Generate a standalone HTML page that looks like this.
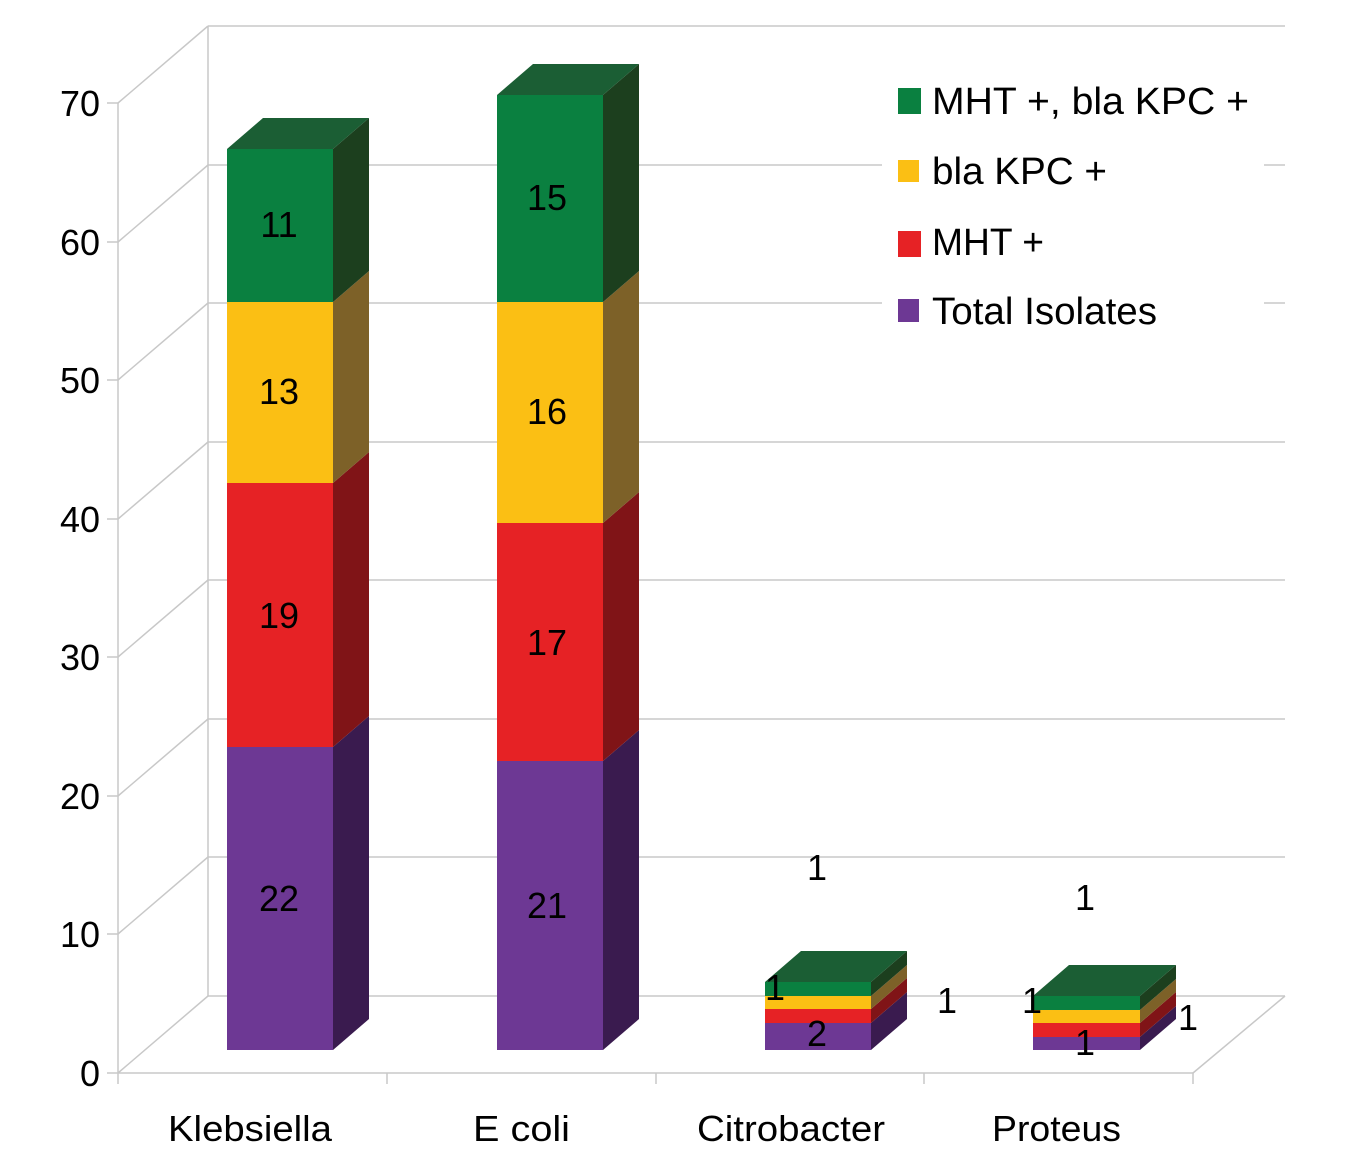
<!DOCTYPE html>
<html><head><meta charset="utf-8"><style>html,body{margin:0;padding:0;background:#fff}</style></head>
<body>
<svg width="1369" height="1171" viewBox="0 0 1369 1171" xmlns="http://www.w3.org/2000/svg" font-family="Liberation Sans, sans-serif">
<g stroke="#c8c8c8" stroke-width="1.5" fill="none">
<!-- back gridlines -->
<line x1="208" y1="26" x2="1285" y2="26"/>
<line x1="208" y1="165" x2="1285" y2="165"/>
<line x1="208" y1="303" x2="1285" y2="303"/>
<line x1="208" y1="442" x2="1285" y2="442"/>
<line x1="208" y1="580" x2="1285" y2="580"/>
<line x1="208" y1="719" x2="1285" y2="719"/>
<line x1="208" y1="857" x2="1285" y2="857"/>
<line x1="208" y1="996" x2="1285" y2="996"/>
<!-- side wall diagonals -->
<line x1="118" y1="103" x2="208" y2="26"/>
<line x1="118" y1="242" x2="208" y2="165"/>
<line x1="118" y1="380" x2="208" y2="303"/>
<line x1="118" y1="519" x2="208" y2="442"/>
<line x1="118" y1="657" x2="208" y2="580"/>
<line x1="118" y1="796" x2="208" y2="719"/>
<line x1="118" y1="934" x2="208" y2="857"/>
<line x1="118" y1="1073" x2="208" y2="996"/>
<line x1="208" y1="26" x2="208" y2="996"/>
<!-- axis -->
<line x1="118" y1="103" x2="118" y2="1073"/>
<line x1="118" y1="1073" x2="1193" y2="1073"/>
<line x1="1193" y1="1073" x2="1285" y2="996"/>
<line x1="107" y1="103" x2="118" y2="103"/><line x1="107" y1="242" x2="118" y2="242"/>
<line x1="107" y1="380" x2="118" y2="380"/><line x1="107" y1="519" x2="118" y2="519"/>
<line x1="107" y1="657" x2="118" y2="657"/><line x1="107" y1="796" x2="118" y2="796"/>
<line x1="107" y1="934" x2="118" y2="934"/><line x1="107" y1="1073" x2="118" y2="1073"/>
<line x1="118" y1="1073" x2="118" y2="1084"/><line x1="387" y1="1073" x2="387" y2="1084"/>
<line x1="656" y1="1073" x2="656" y2="1084"/><line x1="924" y1="1073" x2="924" y2="1084"/>
<line x1="1193" y1="1073" x2="1193" y2="1084"/>
</g>
<g font-size="36" fill="#000" text-anchor="end">
<text x="100" y="116">70</text><text x="100" y="255">60</text><text x="100" y="393">50</text>
<text x="100" y="532">40</text><text x="100" y="670">30</text><text x="100" y="809">20</text>
<text x="100" y="947">10</text><text x="100" y="1086">0</text>
</g>
<!-- legend bg -->
<rect x="882" y="70" width="382" height="270" fill="#fff"/>
<!-- Bars: helper rendering -->
<!-- Klebsiella -->
<g>
<rect x="227" y="747" width="106" height="303" fill="#6d3894"/>
<polygon points="333,747 369,716 369,1019 333,1050" fill="#3a1b4f"/>
<rect x="227" y="483" width="106" height="264" fill="#e62225"/>
<polygon points="333,483 369,452 369,716 333,747" fill="#801417"/>
<rect x="227" y="302" width="106" height="181" fill="#fbbf14"/>
<polygon points="333,302 369,271 369,452 333,483" fill="#7d6128"/>
<rect x="227" y="149" width="106" height="153" fill="#0a8040"/>
<polygon points="333,149 369,118 369,271 333,302" fill="#1c3f1e"/>
<polygon points="227,149 263,118 369,118 333,149" fill="#1b5e34"/>
</g>
<!-- E coli -->
<g>
<rect x="497" y="761" width="106" height="289" fill="#6d3894"/>
<polygon points="603,761 639,730 639,1019 603,1050" fill="#3a1b4f"/>
<rect x="497" y="523" width="106" height="238" fill="#e62225"/>
<polygon points="603,523 639,492 639,730 603,761" fill="#801417"/>
<rect x="497" y="302" width="106" height="221" fill="#fbbf14"/>
<polygon points="603,302 639,271 639,492 603,523" fill="#7d6128"/>
<rect x="497" y="95" width="106" height="207" fill="#0a8040"/>
<polygon points="603,95 639,64 639,271 603,302" fill="#1c3f1e"/>
<polygon points="497,95 533,64 639,64 603,95" fill="#1b5e34"/>
</g>
<!-- Citrobacter -->
<g>
<rect x="765" y="1023" width="106" height="27" fill="#6d3894"/>
<polygon points="871,1023 907,992 907,1019 871,1050" fill="#3a1b4f"/>
<rect x="765" y="1009" width="106" height="14" fill="#e62225"/>
<polygon points="871,1009 907,978 907,992 871,1023" fill="#801417"/>
<rect x="765" y="996" width="106" height="13" fill="#fbbf14"/>
<polygon points="871,996 907,965 907,978 871,1009" fill="#7d6128"/>
<rect x="765" y="982" width="106" height="14" fill="#0a8040"/>
<polygon points="871,982 907,951 907,965 871,996" fill="#1c3f1e"/>
<polygon points="765,982 801,951 907,951 871,982" fill="#1b5e34"/>
</g>
<!-- Proteus -->
<g>
<rect x="1033" y="1037" width="107" height="13" fill="#6d3894"/>
<polygon points="1140,1037 1176,1006 1176,1019 1140,1050" fill="#3a1b4f"/>
<rect x="1033" y="1023" width="107" height="14" fill="#e62225"/>
<polygon points="1140,1023 1176,992 1176,1006 1140,1037" fill="#801417"/>
<rect x="1033" y="1010" width="107" height="13" fill="#fbbf14"/>
<polygon points="1140,1010 1176,979 1176,992 1140,1023" fill="#7d6128"/>
<rect x="1033" y="996" width="107" height="14" fill="#0a8040"/>
<polygon points="1140,996 1176,965 1176,979 1140,1010" fill="#1c3f1e"/>
<polygon points="1033,996 1069,965 1176,965 1140,996" fill="#1b5e34"/>
</g>
<!-- data labels -->
<g font-size="36" fill="#000" text-anchor="middle">
<text x="279" y="237">11</text><text x="279" y="404">13</text><text x="279" y="628">19</text><text x="279" y="911">22</text>
<text x="547" y="210">15</text><text x="547" y="424">16</text><text x="547" y="655">17</text><text x="547" y="918">21</text>
<text x="817" y="880">1</text><text x="775" y="1000">1</text><text x="947" y="1013">1</text><text x="817" y="1046">2</text>
<text x="1085" y="910">1</text><text x="1032" y="1013">1</text><text x="1188" y="1030">1</text><text x="1085" y="1055">1</text>
</g>
<!-- category labels -->
<g font-size="36" fill="#000">
<text x="168" y="1141" textLength="164" lengthAdjust="spacingAndGlyphs">Klebsiella</text>
<text x="473" y="1141" textLength="97" lengthAdjust="spacingAndGlyphs">E  coli</text>
<text x="697" y="1141" textLength="188" lengthAdjust="spacingAndGlyphs">Citrobacter</text>
<text x="992" y="1141" textLength="129" lengthAdjust="spacingAndGlyphs">Proteus</text>
</g>
<!-- legend -->
<rect x="898" y="88" width="23" height="26" fill="#0a8040"/>
<rect x="898" y="160" width="21" height="22" fill="#fbbf14"/>
<rect x="898" y="231" width="23" height="26" fill="#e62225"/>
<rect x="898" y="299" width="21" height="23" fill="#6d3894"/>
<g font-size="38" fill="#000">
<text x="932" y="114" textLength="317" lengthAdjust="spacingAndGlyphs">MHT +, bla  KPC +</text>
<text x="932" y="184" textLength="175" lengthAdjust="spacingAndGlyphs">bla  KPC +</text>
<text x="932" y="255" textLength="112" lengthAdjust="spacingAndGlyphs">MHT +</text>
<text x="932" y="324" textLength="225" lengthAdjust="spacingAndGlyphs">Total Isolates</text>
</g>
</svg>
</body></html>
